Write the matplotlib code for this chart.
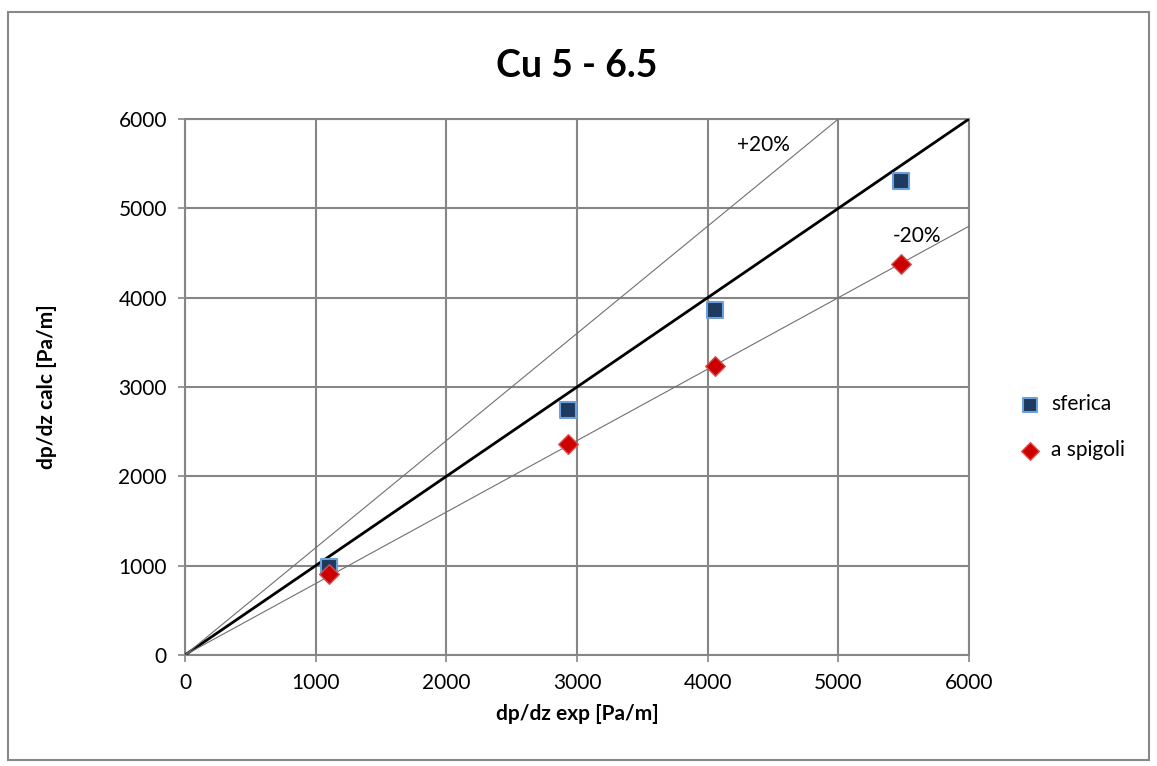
import matplotlib
matplotlib.use('Agg')
import matplotlib.pyplot as plt
from matplotlib.patches import Rectangle

plt.rcParams['font.family'] = ['Lato', 'DejaVu Sans']

# data
exp_sferica = [1100, 2930, 4055, 5480]
calc_sferica = [990, 2745, 3865, 5305]
exp_spigoli = [1100, 2930, 4055, 5480]
calc_spigoli = [905, 2360, 3240, 4378]

ticks = [0, 1000, 2000, 3000, 4000, 5000, 6000]
line_x = [0, 6000]
plus_x = [0, 5000]

grid_col = '#868686'

fig = plt.figure(figsize=(11.57, 7.66), dpi=100)
fig.patches.append(Rectangle((8/1157, 6/766), 1141/1157, 748/766, transform=fig.transFigure,
                             fill=False, edgecolor='#888888', linewidth=1.5))

ax = fig.add_axes([185/1157, 1-655/766, 784/1157, 536/766])

# reference lines: 1:1, +20%, -20%
ax.plot(line_x, line_x, color='black', lw=2, zorder=3)
ax.plot(plus_x, [1.2*v for v in plus_x], color='#707070', lw=0.8, zorder=3)
ax.plot(line_x, [0.8*v for v in line_x], color='#707070', lw=0.8, zorder=3)

ax.scatter(exp_sferica, calc_sferica, marker='s', s=120, color='#1f3a5f',
           edgecolors='#6f9fd8', linewidths=1.5, zorder=4, label='sferica')
ax.scatter(exp_spigoli, calc_spigoli, marker='D', s=100, color='#cc0000',
           edgecolors='#d85050', linewidths=1, zorder=5, label='a spigoli')

ax.text(4430, 5710, '+20%', fontsize=15, ha='center', va='center')
ax.text(5600, 4690, '-20%', fontsize=15, ha='center', va='center')

ax.set_xlim(0, 6000)
ax.set_ylim(0, 6000)
ax.set_xticks(ticks)
ax.set_yticks(ticks)
ax.grid(True, color=grid_col, lw=1.5)
ax.set_axisbelow(True)
for s in ax.spines.values():
    s.set_color(grid_col)
    s.set_linewidth(1.5)
ax.tick_params(colors=grid_col, labelcolor='black', labelsize=15, length=5, width=1.2, pad=8)

ax.set_xlabel('dp/dz exp [Pa/m]', fontsize=15, fontweight='bold', labelpad=8)
ax.set_ylabel('dp/dz calc [Pa/m]', fontsize=15, fontweight='bold', labelpad=44)
ax.set_title('Cu 5 - 6.5', fontsize=27, fontweight='bold', pad=30)

ax.legend(loc='center left', bbox_to_anchor=(1.04, 0.425), frameon=False, fontsize=15,
          handletextpad=0.05, labelspacing=1.25, markerscale=0.9, borderaxespad=0)

plt.savefig('out.png', dpi=100)
